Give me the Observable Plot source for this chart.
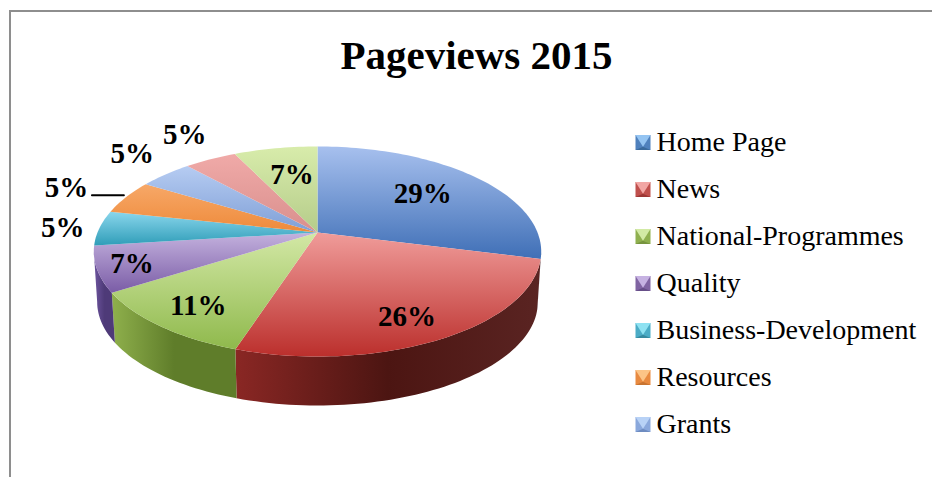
<!DOCTYPE html>
<html>
<head>
<meta charset="utf-8">
<script src="https://cdn.jsdelivr.net/npm/d3@7"></script>
<script src="https://cdn.jsdelivr.net/npm/@observablehq/plot@0.6"></script>
<style>
html,body{margin:0;padding:0;background:#fff;}
#frame{position:absolute;left:9px;top:10px;width:923px;height:467px;box-sizing:border-box;border-top:2px solid #8e8e8e;border-left:2px solid #8e8e8e;}
#chart{position:absolute;left:0;top:0;}
</style>
</head>
<body>
<div id="frame"></div>
<div id="chart"></div>
<script>
const title = "Pageviews 2015";
const shares = [29, 26, 11, 7, 5.4, 5.3, 4.6, 4.5, 7.2];
const shareLabels = ["29%", "26%", "11%", "7%", "5%", "5%", "5%", "5%", "7%"];
const legendNames = ["Home Page", "News", "National-Programmes", "Quality", "Business-Development", "Resources", "Grants"];
const topLight = ["#a7c0ee", "#f09c9a", "#d3e8a6", "#c4b2de", "#8ad6ec", "#f7a868", "#b6ccf2", "#f0aaa8", "#d8ecab"];
const topDark  = ["#3f6fb6", "#bb2f2c", "#8fb94c", "#7a5ca6", "#2f9db8", "#ee8a3a", "#7f9fd6", "#d98f8d", "#b5cc8a"];
const wallLeft  = ["#5a7fb8", "#8a2724", "#8fb04c", "#6f56a0", "#2f8fa8", "#c06a20", "#6a86b8", "#b06a68", "#8aa85a"];
const wallMid   = ["#23406e", "#4c1512", "#5f7d2a", "#4e3a78", "#1f6f85", "#8a4a12", "#4a6290", "#804c4a", "#6a8440"];
const wallRight = ["#23406e", "#5a2422", "#5f7d2a", "#4e3a78", "#1f6f85", "#8a4a12", "#4a6290", "#804c4a", "#6a8440"];
const swatchLight = ["#94c4f2", "#f2a6a4", "#d2eaa4", "#c6b2e2", "#8ee2f2", "#fcc486", "#b8d2f6"];
const swatchMid   = ["#4f81bd", "#c0504d", "#8fb04f", "#8064a2", "#4bacc6", "#e88a40", "#8aa8dc"];
const swatchDark  = ["#3a6a9c", "#9c3634", "#76943e", "#664e88", "#36899f", "#c87430", "#6e8cc0"];

// pie-tilt model, from the picture
const tilt = 0.181;          // perspective of the tilted disc
const wallDrop = 0.5;        // depth of the pie wall in y units
const wallScale = 0.985;
const silhouette = 100.4;    // rim angle where the disc's outline turns away
const labelRadius = [0.66, 0.8, 0.8, 0.85, 1.17, 1.33, 1.33, 1.38, 0.65];
const labelTurn = [-1, 2.5, -1, 0, 0, -0.6, 3, 2, 1.5];

const total = d3.sum(shares);
const cumulative = Array.from(d3.cumsum(shares));
const sliceAngles = shares.map((s, i) => {
  const end = cumulative[i] / total * 360;
  return {i, a0: end - s / total * 360, a1: end};
});
function project(r, deg) {
  const t = deg * Math.PI / 180;
  const u = r * Math.sin(t), v = r * Math.cos(t);
  const w = 1 + tilt * v;
  return {x: u / w, y: v / w};
}
function arcPoints(r, a0, a1) {
  const n = Math.max(2, Math.ceil((a1 - a0) / 1.5));
  return d3.range(n + 1).map(k => project(r, a0 + (a1 - a0) * k / n));
}
const topSlice = ({a0, a1}) => [{x: 0, y: 0}, ...arcPoints(1, a0, a1)];
const lower = p => ({x: p.x * wallScale, y: p.y * wallScale - wallDrop});
// only the part of a slice's rim in front of the disc shows a wall
function wallPolygon({a0, a1}) {
  const lo = Math.max(a0, silhouette), hi = Math.min(a1, 360 - silhouette);
  if (hi <= lo) return null;
  const rim = arcPoints(1, lo, hi);
  return [...rim, ...rim.slice().reverse().map(lower)];
}
const walls = sliceAngles.map(s => ({i: s.i, points: wallPolygon(s)})).filter(d => d.points);
const wholeBase = arcPoints(1, 0, 360).map(lower);

const gradient = (id, stops, horizontal) => {
  const g = d3.create("svg:linearGradient").attr("id", id).attr("x1", 0).attr("y1", 0)
    .attr("x2", horizontal ? 1 : 0).attr("y2", horizontal ? 0 : 1);
  stops.forEach((c, k) => g.append("stop").attr("offset", k / (stops.length - 1)).attr("stop-color", c));
  return g.node();
};
const defsMark = () => {
  const defs = d3.create("svg:defs");
  shares.forEach((_, i) => {
    defs.append(() => gradient(`top${i}`, [topLight[i], topDark[i]], false));
    defs.append(() => gradient(`wall${i}`, [wallLeft[i], wallMid[i], wallRight[i]], true));
  });
  defs.append("filter").attr("id", "soft").attr("x", "-10%").attr("y", "-10%").attr("width", "120%").attr("height", "120%")
    .append("feGaussianBlur").attr("stdDeviation", 3);
  return defs.node();
};

const poly = (points, fill, extra = {}) => Plot.line(points, {x: "x", y: "y", fill, stroke: "none", curve: "linear", ...extra});

const S = 7.5;
const shape = pts => ({draw(c) {
  c.moveTo(...pts[0]); pts.slice(1).forEach(p => c.lineTo(...p)); c.closePath();
}});
const bevel = [
  {sym: shape([[-S, -S], [S, -S], [S, S], [-S, S]]), colors: swatchMid},
  {sym: shape([[-S, -S], [S, -S], [0, 0.55 * S]]), colors: swatchLight},
  {sym: shape([[-S, S], [S, S], [0, 0.55 * S]]), colors: swatchDark}
];
const legendTop = 142, legendStep = 47;

const labelData = shareLabels.map((text, i) => {
  const {a0, a1} = sliceAngles[i];
  return {text, ...project(labelRadius[i], (a0 + a1) / 2 + labelTurn[i])};
});
const leaderEnd = project(1, (sliceAngles[5].a0 + sliceAngles[5].a1) / 2);
const leader = [{x: leaderEnd.x - 0.155, y: leaderEnd.y + 0.02}, {x: leaderEnd.x - 0.01, y: leaderEnd.y + 0.02}];

const serif = "'Liberation Serif', serif";
const plot = Plot.plot({
  width: 932, height: 477,
  margin: 0,
  style: {background: "transparent"},
  x: {domain: [-1, 1], range: [97, 537], axis: null},
  y: {domain: [-1, 1], range: [333.6, 130.4], axis: null},
  marks: [
    defsMark,
    poly(wholeBase, "#777", {ariaLabel: "shadow", fillOpacity: 0.6, dy: 2, dx: -1}),
    ...walls.map(w => poly(w.points, `url(#wall${w.i})`)),
    ...sliceAngles.map(s => poly(topSlice(s), `url(#top${s.i})`)),
    Plot.line(leader, {x: "x", y: "y", stroke: "#000", strokeWidth: 2}),
    Plot.text(labelData, {x: "x", y: "y", text: "text", fontFamily: serif, fontWeight: "bold", fontSize: 29, fill: "#000"}),
    Plot.text([title], {frameAnchor: "top-left", lineAnchor: "middle", dx: 476, dy: 55, text: d => d, fontFamily: serif, fontWeight: "bold", fontSize: 41, fill: "#000", textAnchor: "middle"}),
    ...legendNames.flatMap((name, i) => [
      ...bevel.map(b => Plot.dot([name], {frameAnchor: "top-left", dx: 642.5, dy: legendTop + legendStep * i, symbol: b.sym, fill: b.colors[i], stroke: "none", r: 7})),
      Plot.text([name], {frameAnchor: "top-left", lineAnchor: "middle", dx: 656, dy: legendTop + legendStep * i, text: d => d, textAnchor: "start", fontFamily: serif, fontSize: 28, fill: "#000"})
    ])
  ]
});
d3.select(plot).select('[aria-label="shadow"]').attr("filter", "url(#soft)");
document.getElementById("chart").append(plot);
</script>
</body>
</html>
